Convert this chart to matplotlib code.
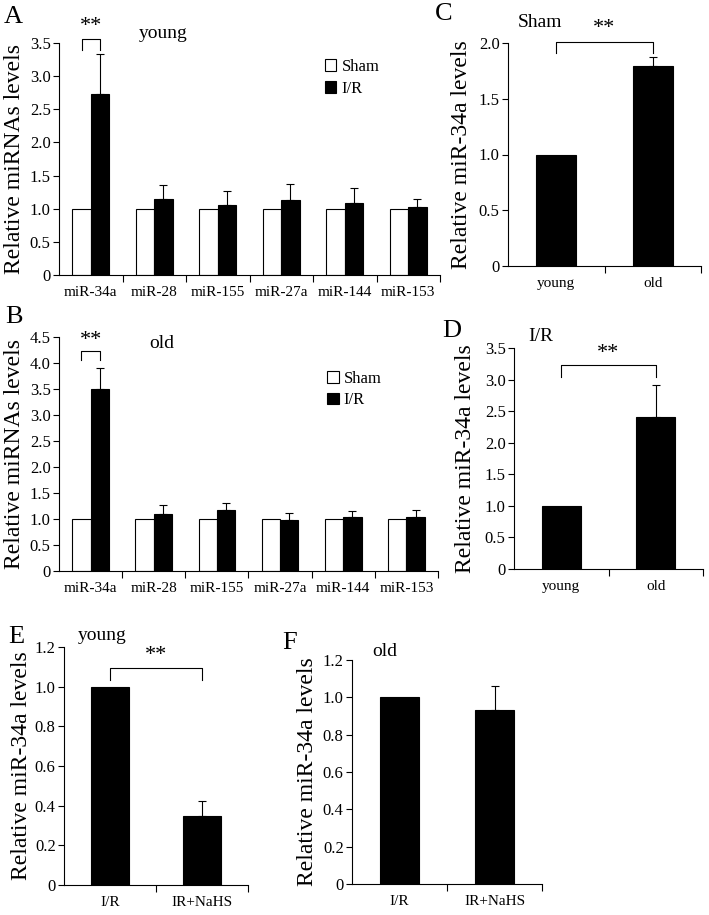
import numpy as np
import matplotlib
matplotlib.use('Agg')
import matplotlib.pyplot as plt

plt.rcParams['font.family'] = ['Liberation Serif', 'DejaVu Serif']
plt.rcParams['axes.linewidth'] = 0.8

# panel A / B: miRNA screen
mirnas = ['miR-34a', 'miR-28', 'miR-155', 'miR-27a', 'miR-144', 'miR-153']
sham_young = [1.0, 1.0, 1.0, 1.0, 1.0, 1.0]
ir_young = [2.73, 1.14, 1.06, 1.13, 1.09, 1.02]
ir_young_err = [0.60, 0.22, 0.21, 0.25, 0.23, 0.13]
sham_old = [1.0, 1.0, 1.0, 1.0, 1.0, 1.0]
ir_old = [3.50, 1.09, 1.18, 0.98, 1.04, 1.04]
ir_old_err = [0.41, 0.17, 0.13, 0.14, 0.11, 0.13]

# panel C / D: young vs old
ages = ['young', 'old']
sham_age = [1.0, 1.79]
sham_age_err = [0.0, 0.08]
ir_age = [1.0, 2.41]
ir_age_err = [0.0, 0.51]

# panel E / F: NaHS treatment
treat = ['I/R', 'IR+NaHS']
nahs_young = [1.0, 0.35]
nahs_young_err = [0.0, 0.075]
nahs_old = [1.0, 0.93]
nahs_old_err = [0.0, 0.13]

W, H = 709, 915
fig = plt.figure(figsize=(W / 100, H / 100), dpi=100)


def box(l, r, t, b):
    return [l / W, 1 - b / H, (r - l) / W, (b - t) / H]


def style(ax, n, ymax, step, yticklabels):
    for s in ['top', 'right']:
        ax.spines[s].set_visible(False)
    ax.set_xlim(-0.5, n - 0.5)
    ax.set_ylim(0, ymax)
    yt = np.arange(0, ymax + step / 2, step)
    ax.set_yticks(yt)
    ax.set_yticklabels(yticklabels, fontsize=12)
    ax.tick_params(axis='y', direction='out', length=4, width=0.8, pad=2)
    ax.set_xticks(np.arange(n))
    ax.tick_params(axis='x', which='major', length=0, pad=8, labelsize=11)
    ax.set_xticks(np.arange(n) + 0.5, minor=True)
    ax.tick_params(axis='x', which='minor', direction='out', length=5, width=0.8)


def bracket(ax, x0, x1, ytop, yleg, ystar):
    ax.plot([x0, x0, x1, x1], [yleg, ytop, ytop, yleg], color='black', lw=0.8, clip_on=False)
    ax.text((x0 + x1) / 2, ystar, '**', ha='center', va='center', fontsize=16)


def upper_err(ax, x, y, e):
    ax.errorbar(x, y, yerr=[np.zeros(len(e)), e], fmt='none', ecolor='black',
                elinewidth=0.8, capsize=3, capthick=0.8)


def grouped(ax, sham, ir, err, ymax, yticklabels, label, lx, ly, leg_xy, ylab_x):
    x = np.arange(len(mirnas))
    w = 0.29
    ax.bar(x - w / 2, sham, w, color='white', edgecolor='black', lw=0.8, label='Sham')
    ax.bar(x + w / 2, ir, w, color='black', edgecolor='black', lw=0.8, label='I/R')
    upper_err(ax, x + w / 2, np.array(ir), np.array(err))
    style(ax, len(mirnas), ymax, 0.5, yticklabels)
    ax.set_xticklabels(mirnas)
    ax.set_ylabel('Relative miRNAs levels', fontsize=17)
    ax.yaxis.set_label_coords(ylab_x, 0.5)
    ax.text(lx, ly, label, transform=ax.transAxes, ha='center', va='center', fontsize=14)
    ax.legend(loc='upper left', bbox_to_anchor=leg_xy, frameon=False, fontsize=12,
              handlelength=0.7, handleheight=0.7, handletextpad=0.3, borderaxespad=0,
              labelspacing=0.35)
    return w


def pair(ax, cats, vals, err, ymax, step, yticklabels, label, lx, ly, ylab_x):
    x = np.arange(len(cats))
    ax.bar(x, vals, 0.41, color='black', edgecolor='black', lw=0.8)
    e = np.array(err)
    upper_err(ax, x[e > 0], np.array(vals)[e > 0], e[e > 0])
    style(ax, len(cats), ymax, step, yticklabels)
    ax.set_xticklabels(cats)
    ax.set_ylabel('Relative miR-34a levels', fontsize=17)
    ax.yaxis.set_label_coords(ylab_x, 0.5)
    ax.text(lx, ly, label, transform=ax.transAxes, ha='center', va='center', fontsize=14)


lab05 = lambda m: ['0'] + ['%.1f' % v for v in np.arange(0.5, m + 0.01, 0.5)]
lab02 = ['0', '0.2', '0.4', '0.6', '0.8', '1.0', '1.2']

# A
axA = fig.add_axes(box(59, 440, 43, 275))
w = grouped(axA, sham_young, ir_young, ir_young_err, 3.5, lab05(3.5), 'young',
            0.273, 1.043, (0.68, 0.96), -0.089)
bracket(axA, -w / 2, w / 2, 3.56, 3.40, 3.75)

# B
axB = fig.add_axes(box(59, 438, 337, 571))
w = grouped(axB, sham_old, ir_old, ir_old_err, 4.5, lab05(4.5), 'old',
            0.27, 0.974, (0.69, 0.885), -0.09)
bracket(axB, -w / 2, w / 2, 4.24, 4.06, 4.44)

# C
axC = fig.add_axes(box(508, 701, 43, 266))
pair(axC, ages, sham_age, sham_age_err, 2.0, 0.5, lab05(2.0), 'Sham', 0.166, 1.09, -0.187)
bracket(axC, 0, 1, 2.01, 1.91, 2.13)

# D
axD = fig.add_axes(box(514, 703, 348, 569))
pair(axD, ages, ir_age, ir_age_err, 3.5, 0.5, lab05(3.5), 'I/R', 0.143, 1.05, -0.20)
bracket(axD, 0, 1, 3.23, 3.04, 3.42)

# E
axE = fig.add_axes(box(64, 248, 647, 885))
pair(axE, treat, nahs_young, nahs_young_err, 1.2, 0.2, lab02, 'young', 0.207, 1.05, -0.174)
bracket(axE, 0, 1, 1.096, 1.035, 1.158)

# F
axF = fig.add_axes(box(352, 542, 660, 884))
pair(axF, treat, nahs_old, nahs_old_err, 1.2, 0.2, lab02, 'old', 0.174, 1.036, -0.18)

# panel letters
for t, px, py in [('A', 13, 17), ('B', 14, 317), ('C', 444, 14),
                  ('D', 452, 331), ('E', 16, 637), ('F', 290, 643)]:
    fig.text(px / W, 1 - py / H, t, ha='center', va='center', fontsize=19)

fig.savefig('out.png', dpi=100)
